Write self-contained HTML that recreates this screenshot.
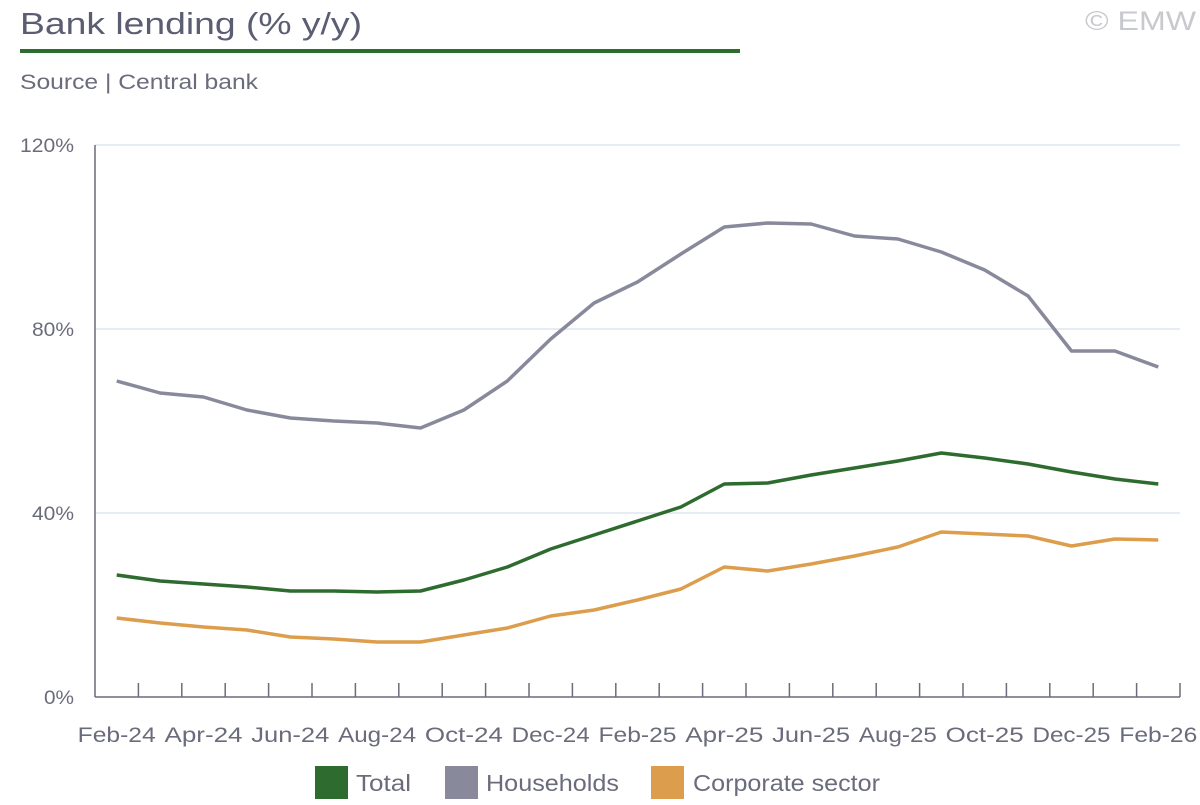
<!DOCTYPE html>
<html><head><meta charset="utf-8"><style>
body{margin:0;background:#fff;width:1200px;height:800px;overflow:hidden;font-family:"Liberation Sans",sans-serif;}
</style></head><body>
<svg width="1200" height="800" xmlns="http://www.w3.org/2000/svg" font-family="Liberation Sans, sans-serif">
<text x="20" y="34" font-size="31" fill="#5b5e73" textLength="342" lengthAdjust="spacingAndGlyphs">Bank lending (% y/y)</text>
<text x="1085" y="30" font-size="27" fill="#c8c9cf" textLength="111" lengthAdjust="spacingAndGlyphs">© EMW</text>
<rect x="20" y="49" width="720" height="4" fill="#2e6b2e"/>
<text x="20" y="89" font-size="21" fill="#6a6c7c" textLength="238" lengthAdjust="spacingAndGlyphs">Source | Central bank</text>
<g stroke="#dde6ef" stroke-width="1.5">
<line x1="95" y1="145" x2="1180" y2="145"/>
<line x1="95" y1="329" x2="1180" y2="329"/>
<line x1="95" y1="513" x2="1180" y2="513"/>
</g>
<g font-size="19" fill="#6a6c7c" text-anchor="end">
<text x="74" y="152" textLength="54" lengthAdjust="spacingAndGlyphs">120%</text><text x="74" y="336" textLength="42" lengthAdjust="spacingAndGlyphs">80%</text><text x="74" y="520" textLength="42" lengthAdjust="spacingAndGlyphs">40%</text><text x="74" y="704" textLength="30" lengthAdjust="spacingAndGlyphs">0%</text>
</g>
<line x1="95" y1="145" x2="95" y2="697" stroke="#6a6c7c" stroke-width="1.5"/>
<line x1="95" y1="697" x2="1180" y2="697" stroke="#6a6c7c" stroke-width="1.5"/>
<g stroke="#6a6c7c" stroke-width="1.5" id="ticks"></g>
<g font-size="21" fill="#6a6c7c" text-anchor="middle" id="xl"></g>
<polyline fill="none" stroke="#888a9c" stroke-width="3.5" stroke-linejoin="round" id="hh"/>
<polyline fill="none" stroke="#2e6b2e" stroke-width="3.5" stroke-linejoin="round" id="tot"/>
<polyline fill="none" stroke="#dc9d4c" stroke-width="3.5" stroke-linejoin="round" id="corp"/>
<rect x="315" y="766" width="33" height="33" fill="#2e6b2e"/>
<text x="356" y="791" font-size="23" fill="#6a6c7c" textLength="55" lengthAdjust="spacingAndGlyphs">Total</text>
<rect x="445" y="766" width="33" height="33" fill="#888a9c"/>
<text x="486" y="791" font-size="23" fill="#6a6c7c" textLength="133" lengthAdjust="spacingAndGlyphs">Households</text>
<rect x="651" y="766" width="33" height="33" fill="#dc9d4c"/>
<text x="693" y="791" font-size="23" fill="#6a6c7c" textLength="187" lengthAdjust="spacingAndGlyphs">Corporate sector</text>
</svg>
<script>
const w=1085/25,ns="http://www.w3.org/2000/svg";
const hh=[381,393,397,410,418,421,423,428,410,381,339,303,282,254,227,223,224,236,239,252,270,296,351,351,367];
const tot=[575,581,584,587,591,591,592,591,580,567,549,535,521,507,484,483,475,468,461,453,458,464,472,479,484];
const corp=[618,623,627,630,637,639,642,642,635,628,616,610,600,589,567,571,564,556,547,532,534,536,546,539,540];
function pts(a){return a.map((y,i)=>(95+w*(i+0.5)).toFixed(1)+","+y).join(" ");}
document.getElementById("hh").setAttribute("points",pts(hh));
document.getElementById("tot").setAttribute("points",pts(tot));
document.getElementById("corp").setAttribute("points",pts(corp));
const t=document.getElementById("ticks");
for(let i=1;i<=25;i++){const l=document.createElementNS(ns,"line");const x=95+w*i;l.setAttribute("x1",x);l.setAttribute("x2",x);l.setAttribute("y1",683);l.setAttribute("y2",697);t.appendChild(l);}
const labs=["Feb-24","Apr-24","Jun-24","Aug-24","Oct-24","Dec-24","Feb-25","Apr-25","Jun-25","Aug-25","Oct-25","Dec-25","Feb-26"];
const xl=document.getElementById("xl");
labs.forEach((s,k)=>{const e=document.createElementNS(ns,"text");e.setAttribute("x",95+w*(2*k+0.5));e.setAttribute("y",742);e.setAttribute("textLength",78);e.setAttribute("lengthAdjust","spacingAndGlyphs");e.textContent=s;xl.appendChild(e);});
</script>
</body></html>
